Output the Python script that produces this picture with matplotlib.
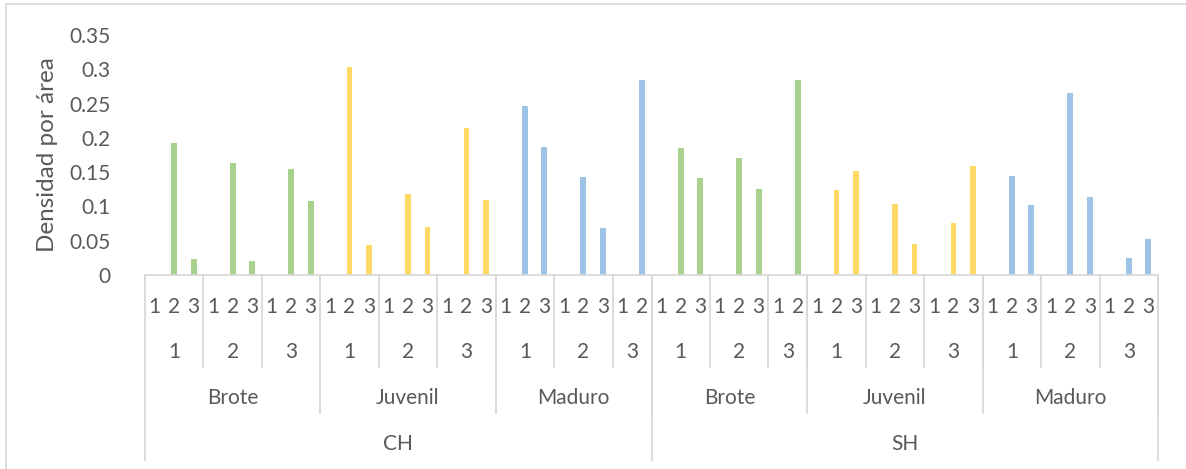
import numpy as np
import matplotlib
matplotlib.use('Agg')
import matplotlib.pyplot as plt
from matplotlib.lines import Line2D

plt.rcParams['font.family'] = ['Lato', 'DejaVu Sans']

# Estructura de categorías: condición -> estado -> muestra -> submuestra
conditions = ['CH', 'SH']
stages = ['Brote', 'Juvenil', 'Maduro']
samples = ['1', '2', '3']
# número de submuestras por muestra (CH Maduro 3 y SH Brote 3 solo tienen 2)
sub_counts = {
    'CH': [[3, 3, 3], [3, 3, 3], [3, 3, 2]],
    'SH': [[3, 3, 2], [3, 3, 3], [3, 3, 3]],
}

# Densidad por área (nan = sin dato)
ch_brote = [np.nan, 0.192, 0.024, np.nan, 0.163, 0.021, np.nan, 0.155, 0.108]
ch_juvenil = [np.nan, 0.304, 0.044, np.nan, 0.118, 0.070, np.nan, 0.214, 0.109]
ch_maduro = [np.nan, 0.246, 0.187, np.nan, 0.143, 0.069, np.nan, 0.285]
sh_brote = [np.nan, 0.185, 0.142, np.nan, 0.171, 0.125, np.nan, 0.285]
sh_juvenil = [np.nan, 0.124, 0.152, np.nan, 0.104, 0.045, np.nan, 0.076, 0.159]
sh_maduro = [np.nan, 0.144, 0.102, np.nan, 0.266, 0.114, np.nan, 0.025, 0.053]

stage_colors = {'Brote': '#A9D18E', 'Juvenil': '#FFD966', 'Maduro': '#9DC3E6'}
text_color = '#595959'
line_color = '#D9D9D9'
fs = 15

values = ch_brote + ch_juvenil + ch_maduro + sh_brote + sh_juvenil + sh_maduro
colors = []
for c in conditions:
    for s, counts in zip(stages, sub_counts[c]):
        colors += [stage_colors[s]] * sum(counts)

n = len(values)
x = np.arange(n)

W, H = 1186, 469
fig = plt.figure(figsize=(W / 100, H / 100), dpi=100)

# borde del gráfico
fig.add_artist(Line2D([6 / W, 1], [1 - 4 / H, 1 - 4 / H], color=line_color, lw=1.3))
fig.add_artist(Line2D([6 / W, 6 / W], [0, 1 - 4 / H], color=line_color, lw=1.3))

ax_left, ax_right, ax_top, ax_bot = 145, 1158, 35, 275
ax = fig.add_axes([ax_left / W, 1 - ax_bot / H, (ax_right - ax_left) / W, (ax_bot - ax_top) / H])

ax.bar(x, values, width=0.3, color=colors)
ax.set_xlim(-0.5, n - 0.5)
ax.set_ylim(0, 0.35)
ax.set_yticks(np.arange(0, 0.351, 0.05))
ax.set_yticklabels(['0', '0.05', '0.1', '0.15', '0.2', '0.25', '0.3', '0.35'])
ax.tick_params(axis='y', length=0, pad=25, labelsize=fs, labelcolor=text_color)
ax.set_xticks([])
for side in ['top', 'right', 'left']:
    ax.spines[side].set_visible(False)
ax.spines['bottom'].set_color(line_color)
ax.spines['bottom'].set_linewidth(1.3)
ax.set_ylabel('Densidad por área', fontsize=17.5, color=text_color, labelpad=8)


def ay(py):
    # pixel vertical de la figura -> fracción de ejes
    return (ax_bot - py) / (ax_bot - ax_top)


trans = ax.get_xaxis_transform()


def sep(xpos, py_end):
    ax.add_line(Line2D([xpos, xpos], [0, ay(py_end)], transform=trans,
                       color=line_color, lw=1.3, clip_on=False))


def label(xpos, py, txt):
    ax.text(xpos, ay(py), txt, transform=trans, ha='center', va='center',
            fontsize=fs, color=text_color, clip_on=False)


pos = 0
sep(-0.5, 460)
for c in conditions:
    c_start = pos
    for s, counts in zip(stages, sub_counts[c]):
        s_start = pos
        for smp, k in zip(samples, counts):
            for j in range(k):
                label(pos + j, 307, str(j + 1))
            label(pos + (k - 1) / 2, 352, smp)
            pos += k
            sep(pos - 0.5, 367)
        label(s_start + (pos - s_start - 1) / 2, 398, s)
        sep(pos - 0.5, 413)
    label(c_start + (pos - c_start - 1) / 2, 444, c)
    sep(pos - 0.5, 460)

fig.savefig('out.png', dpi=100)
